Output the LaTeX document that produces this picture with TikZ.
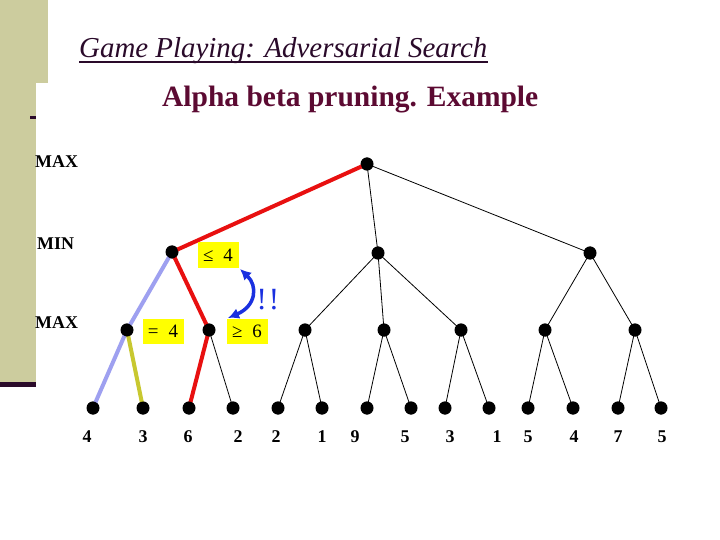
\documentclass[tikz,border=0pt]{standalone}
\usepackage{fontspec}
\setmainfont{Liberation Serif}
\usetikzlibrary{arrows.meta}
\definecolor{panel}{HTML}{CCCC9E}
\definecolor{darkline}{HTML}{2B0B2B}
\definecolor{titlecol}{HTML}{2A0A2A}
\definecolor{subcol}{HTML}{5C0A32}
\definecolor{redE}{HTML}{E81010}
\definecolor{lav}{HTML}{9EA0F0}
\definecolor{oliv}{HTML}{C8C830}
\definecolor{blueA}{HTML}{1A30E0}
\definecolor{yel}{HTML}{FFFF00}
\begin{document}
\begin{tikzpicture}[x=1bp,y=-1bp,
  dot/.style={circle,fill=black,inner sep=0pt,minimum width=12bp,minimum height=13bp},
  thin edge/.style={draw=black,line width=0.8bp},
  thick edge/.style={line width=4bp},
  lvl/.style={font=\bfseries\fontsize{18}{20}\selectfont,anchor=west,inner sep=0pt},
  leaflab/.style={font=\bfseries\fontsize{18}{20}\selectfont,inner sep=0pt},
  ybox/.style={fill=yel,inner sep=0pt,minimum width=41bp,minimum height=25bp,font=\fontsize{19}{22}\selectfont}]
\useasboundingbox (0,0) rectangle (720,540);
\fill[white] (0,0) rectangle (720,540);
% left panel
\fill[panel] (0,0) rectangle (48,83);
\fill[panel] (0,83) rectangle (36,383);
\fill[darkline] (0,382) rectangle (36,387);
\fill[darkline] (30,116) rectangle (36,119);
% titles
\node[anchor=base west,inner sep=0pt,font=\itshape\fontsize{29}{32}\selectfont,text=titlecol] (title) at (79,58) {Game Playing: Adversarial Search};
\draw[titlecol,line width=1.6bp] ([yshift=-4bp]title.base west) -- ([yshift=-4bp]title.base east);
\node[anchor=base west,inner sep=0pt,font=\bfseries\fontsize{29.6}{32}\selectfont,text=subcol] (sub) at (162,107) {Alpha beta pruning. Example};
% level labels
\node[lvl] (lmax1) at (35,162) {MAX};
\node[lvl] (lmin) at (37,244) {MIN};
\node[lvl] (lmax2) at (35,323) {MAX};
% nodes
\node[dot] (r) at (367,164) {};
\node[dot] (m1) at (172,252) {};
\node[dot] (m2) at (378,253) {};
\node[dot] (m3) at (590,253) {};
\foreach \i/\x in {1/127,2/209,3/305,4/384,5/461,6/545,7/635}
  \node[dot] (x\i) at (\x,330) {};
\foreach \i/\x in {1/93,2/143,3/189,4/233,5/278,6/322,7/367,8/411,9/445,10/489,11/528,12/573,13/618,14/661}
  \node[dot] (l\i) at (\x,408) {};
\foreach \i/\x/\v in {1/87/4,2/143/3,3/188/6,4/238/2,5/276/2,6/322/1,7/355/9,8/405/5,9/450/3,10/497/1,11/528/5,12/574/4,13/618/7,14/662/5}
  \node[leaflab] (t\i) at (\x,437) {\v};
% edges
\draw[thick edge,redE] (r.center) -- (m1.center);
\draw[thin edge] (r.center) -- (m2.center);
\draw[thin edge] (r.center) -- (m3.center);
\draw[thick edge,lav] (m1.center) -- (x1.center);
\draw[thick edge,redE] (m1.center) -- (x2.center);
\draw[thick edge,lav] (x1.center) -- (l1.center);
\draw[thick edge,oliv] (x1.center) -- (l2.center);
\draw[thick edge,redE] (x2.center) -- (l3.center);
\draw[thin edge] (x2.center) -- (l4.center);
\draw[thin edge] (m2.center) -- (x3.center);
\draw[thin edge] (m2.center) -- (x4.center);
\draw[thin edge] (m2.center) -- (x5.center);
\draw[thin edge] (m3.center) -- (x6.center);
\draw[thin edge] (m3.center) -- (x7.center);
\draw[thin edge] (x3.center) -- (l5.center);
\draw[thin edge] (x3.center) -- (l6.center);
\draw[thin edge] (x4.center) -- (l7.center);
\draw[thin edge] (x4.center) -- (l8.center);
\draw[thin edge] (x5.center) -- (l9.center);
\draw[thin edge] (x5.center) -- (l10.center);
\draw[thin edge] (x6.center) -- (l11.center);
\draw[thin edge] (x6.center) -- (l12.center);
\draw[thin edge] (x7.center) -- (l13.center);
\draw[thin edge] (x7.center) -- (l14.center);
% redraw dots on top
\foreach \n in {r,m1,m2,m3,x1,x2,x3,x4,x5,x6,x7,l1,l2,l3,l4,l5,l6,l7,l8,l9,l10,l11,l12,l13,l14}
  \fill (\n.center) ellipse (6bp and 6.5bp);
% yellow labels
\node[ybox] (b1) at (218,255) {≤\hspace{10bp}4};
\node[ybox] (b2) at (163,331) {=\hspace{10bp}4};
\node[ybox] (b3) at (247,331) {≥\hspace{10bp}6};
% arrow
\coordinate (a1) at (240,269);
\coordinate (a2) at (228,318);
\draw[blueA,line width=3.5bp,{Latex[length=11bp,width=11bp]}-{Latex[length=11bp,width=11bp]}] (a1) .. controls (258,286) and (256,306) .. (a2);
\node[text=blueA,font=\fontsize{31}{34}\selectfont,inner sep=0pt] (ex) at (268,300) {!\hspace{2bp}!};
\end{tikzpicture}
\end{document}
